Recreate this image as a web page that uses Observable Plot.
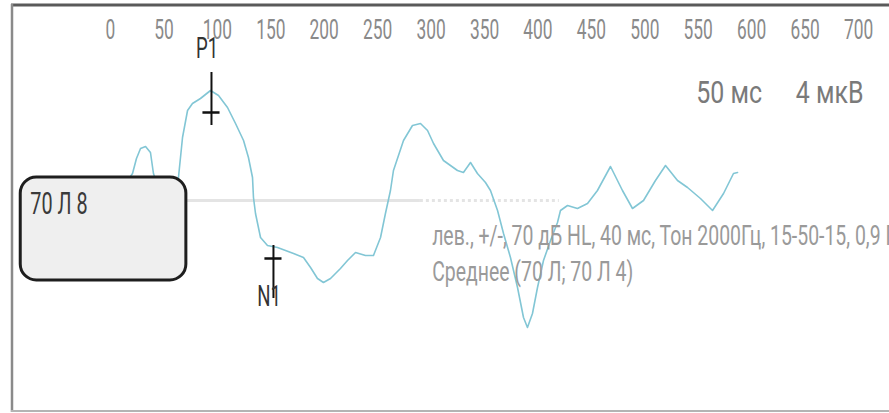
<!DOCTYPE html>
<html><head><meta charset="utf-8">
<script src="https://cdn.jsdelivr.net/npm/d3@7"></script>
<script src="https://cdn.jsdelivr.net/npm/@observablehq/plot@0.6"></script>
<style>
html,body{margin:0;padding:0;background:#fff;}
#chart{position:relative;width:889px;height:413px;overflow:hidden;}
</style></head><body><div id="chart"></div>
<script>
// Averaged evoked response (time in ms, amplitude in µV)
const timeMs = [0,7.5,15,20.6,24.3,28.1,32.8,37.4,40.2,44.9,51.5,58,63.6,67.4,72.1,76.7,84.2,93.6,101.1,109.5,117,124.5,129.1,132.9,133.8,135.7,140.4,146.9,156.3,163.8,171.3,180.6,187.2,193.7,199.3,205.9,215.2,221.8,229.3,238.6,246.1,252.7,257.3,262,264.8,274.2,282.6,290.1,296.7,302.3,311.6,324.7,330.3,336.9,343.4,350.9,355.6,362.2,367.8,374.3,380.9,386.5,390.2,394.9,399.6,405.2,411.8,418.3,421.1,427.7,437,446.4,455.7,467.9,479.1,488.5,498.8,510,519.4,530.6,540,552.1,563.4,573.7,583,586.8];
const amplitudeUv = [0.25,0.5,0.9,1.35,2.1,2.6,2.7,2.4,1.35,0.6,0.35,0.6,1.15,3.15,4.5,4.85,5.1,5.5,5.25,4.65,3.85,3.0,2.15,1.15,0.15,-0.65,-1.85,-2.25,-2.35,-2.5,-2.65,-2.85,-3.35,-3.9,-4.1,-3.9,-3.4,-3.0,-2.6,-2.75,-2.75,-1.85,-0.65,0.5,1.5,3.0,3.75,3.85,3.5,2.85,2.0,1.5,1.4,1.9,1.35,0.9,0.5,-0.5,-1.65,-2.85,-4.35,-5.85,-6.35,-5.65,-4.35,-3.0,-2.0,-1.1,-0.5,-0.25,-0.4,-0.15,0.5,1.7,0.5,-0.4,0.0,1.0,1.75,1.0,0.65,0.1,-0.5,0.35,1.35,1.4];
const xTicks = [0,50,100,150,200,250,300,350,400,450,500,550,600,650,700];
const peakNames = ["P1","N1"];
const peakTimes = [94.5,152.5];
const peakAmps = [4.4,-2.9];
const channelLabel = "70 Л 8";
const scaleLabels = ["50 мс","4 мкВ"];
const scaleLabelTimes = [579,673];
const infoLines = ["лев., +/-, 70 дБ HL, 40 мс, Тон 2000Гц, 15-50-15, 0,9 Гц","Среднее (70 Л; 70 Л 4)"];
const baselineEnd = 420;

const curve = timeMs.map((t,i)=>({t, v: amplitudeUv[i]}));
const peaks = peakNames.map((name,i)=>({name, t: peakTimes[i], v: peakAmps[i], s: Math.sign(peakAmps[i])}));
const scales = scaleLabels.map((label,i)=>({label, t: scaleLabelTimes[i]}));
const info = infoLines.map((text,i)=>({text, i}));

const FONT = "Roboto, 'Liberation Sans', sans-serif";

const plot = Plot.plot({
  width: 889, height: 413,
  marginLeft: 110, marginRight: 31, marginTop: 40, marginBottom: 13,
  style: {fontFamily: FONT, background: "#fff", overflow: "visible"},
  x: {domain: [0,700], axis: null},
  y: {domain: [-10,8], axis: null},
  marks: [
    Plot.axisX(xTicks, {anchor: "top", tickSize: 0, tickPadding: 2, fontSize: 28, fill: "#8a8a8a", label: null}),
    Plot.ruleY([0], {x1: 0, x2: 290, stroke: "#e4e4e4", strokeWidth: 3}),
    Plot.ruleY([0], {x1: 290, x2: baselineEnd, stroke: "#e4e4e4", strokeWidth: 3, strokeDasharray: "3,3"}),
    Plot.line(curve, {x: "t", y: "v", stroke: "#82c6d5", strokeWidth: 1.6, curve: "linear"}),
    Plot.rect([channelLabel], {x1: -84, x2: 71, y1: -4.0, y2: 1.15, fill: "#efefef", stroke: "#1e1e1e", strokeWidth: 3, rx: 16}),
    Plot.text([channelLabel], {x: -75, y: -0.15, text: d=>d, textAnchor: "start", fontSize: 32, fill: "#3a3a3a"}),
    Plot.ruleX(peaks, {x: "t", y1: d=>d.v - d.s*0.65, y2: d=>d.v + d.s*2.0, stroke: "#111", strokeWidth: 2}),
    Plot.ruleY(peaks, {y: "v", x1: d=>d.t - 8, x2: d=>d.t + 8, stroke: "#111", strokeWidth: 2.5}),
    Plot.text(peaks, {x: d=>d.t - 4, y: d=>d.s > 0 ? d.v + 3.2 : d.v - 1.9, text: "name", fontSize: 30, fill: "#333"}),
    Plot.text(scales, {x: "t", y: 5.4, text: "label", fontSize: 32, fill: "#7a7a7a"}),
    Plot.text(info, {x: 301, y: d=>d.i === 0 ? -1.8 : -3.6, text: "text", textAnchor: "start", fontSize: 27, fill: "#9a9a9a"})
  ]
});

// condensed look: narrow every label horizontally around its anchor
d3.select(plot).selectAll("text").each(function(){
  const el = d3.select(this);
  const content = this.textContent;
  let s = 0.62;
  if (infoLines.includes(content)) s = 0.72;
  else if (scaleLabels.includes(content)) s = 0.78;
  const tr = el.attr("transform");
  if (tr) el.attr("transform", tr + ` scale(${s},1)`);
  else {
    const x = +el.attr("x") || 0;
    el.attr("transform", `translate(${x},0) scale(${s},1) translate(${-x},0)`);
  }
});

// panel border
const svg = d3.select(plot);
svg.append("line").attr("x1",11).attr("x2",889).attr("y1",5).attr("y2",5).attr("stroke","#5a5a5a").attr("stroke-width",3);
svg.append("line").attr("x1",12).attr("x2",12).attr("y1",4).attr("y2",412).attr("stroke","#8a8a8a").attr("stroke-width",2.5);
svg.append("line").attr("x1",11).attr("x2",889).attr("y1",411).attr("y2",411).attr("stroke","#b4b4b4").attr("stroke-width",2);

document.getElementById("chart").appendChild(plot);
</script></body></html>
